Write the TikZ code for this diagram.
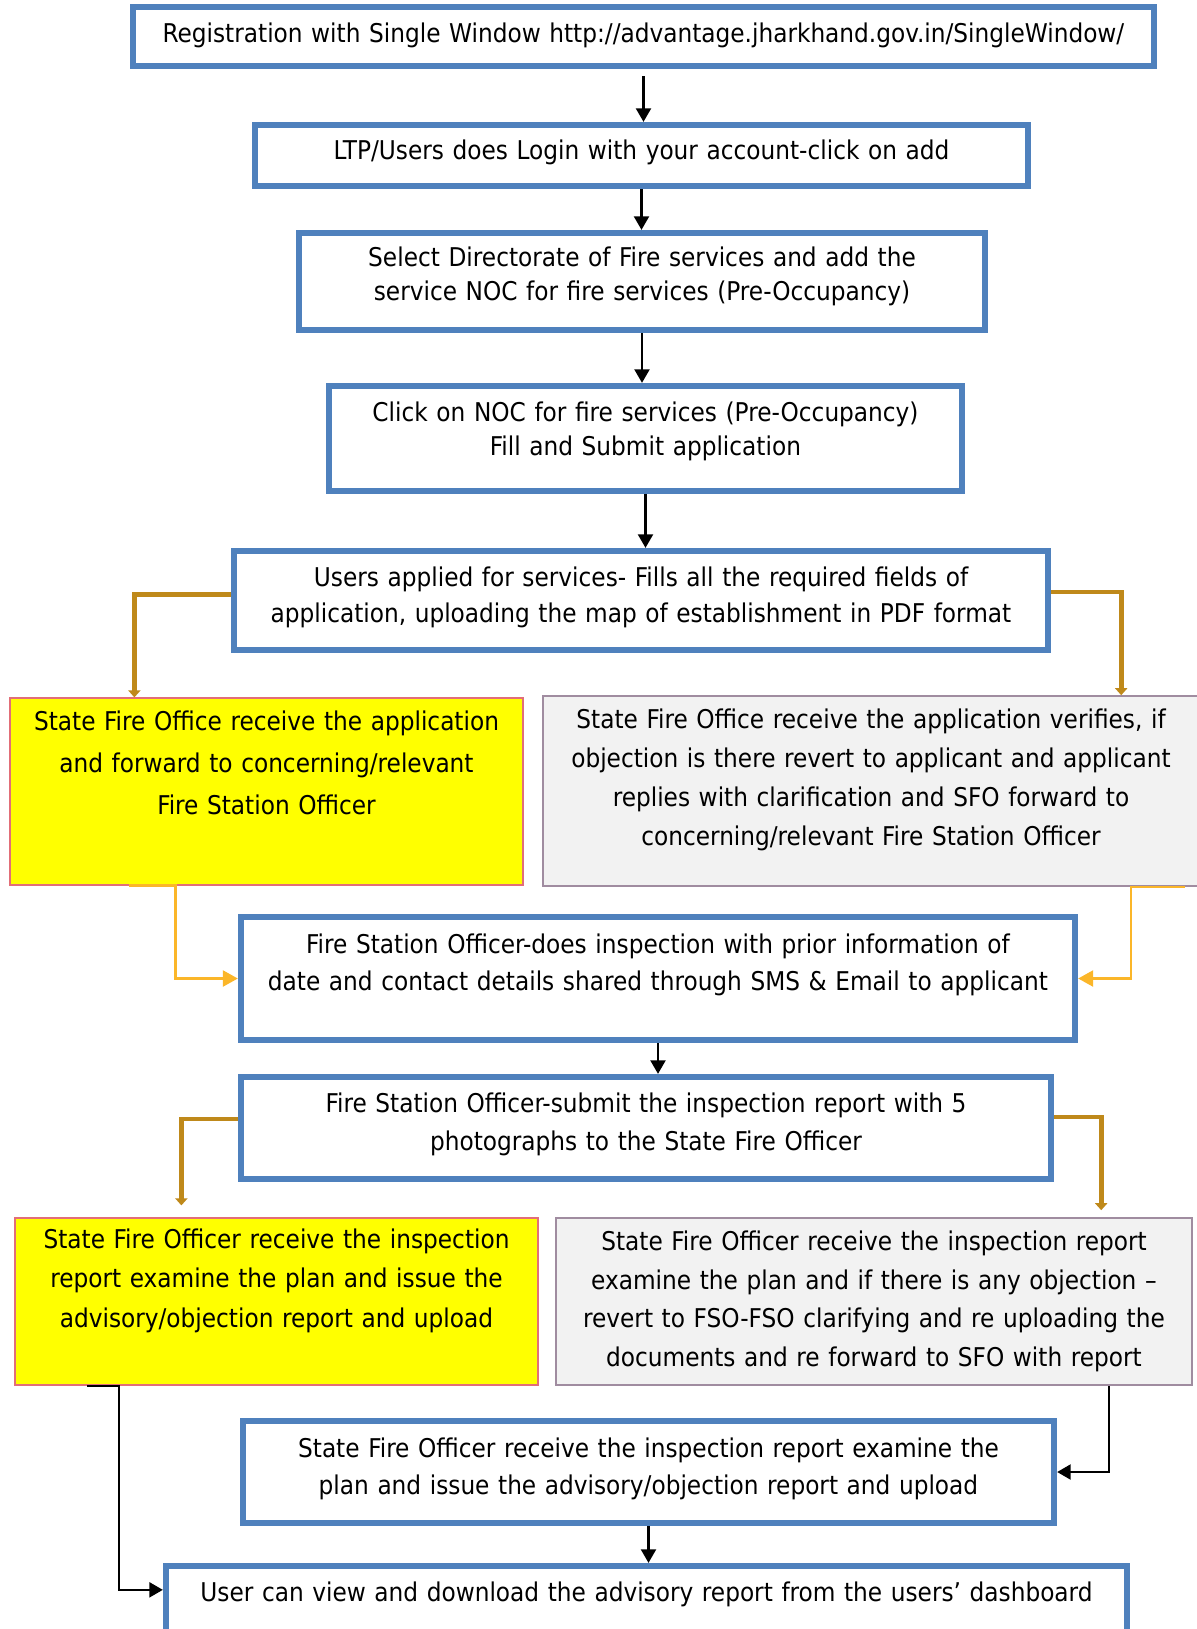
\documentclass[tikz,border=0pt]{standalone}
\usepackage{fontspec}
\IfFontExistsTF{DejaVu Sans Condensed}{\setmainfont{DejaVu Sans Condensed}}{\setmainfont{PT Sans}}
\usetikzlibrary{arrows.meta}

\definecolor{boxblue}{RGB}{79,129,189}
\definecolor{gold}{RGB}{191,137,26}
\definecolor{amber}{RGB}{251,182,41}
\definecolor{boxyellow}{RGB}{255,255,0}
\definecolor{grayfill}{RGB}{242,242,242}
\definecolor{pinkline}{RGB}{226,110,120}
\definecolor{mauveline}{RGB}{160,140,160}

\tikzset{
  lines/.style={font=\fontsize{14.7}{#1}\selectfont},
  bluebox/.style={draw=boxblue,line width=3.6pt,inner sep=0pt,align=center},
  yellowbox/.style={draw=pinkline,line width=0.7pt,fill=boxyellow,inner sep=0pt,align=center},
  greybox/.style={draw=mauveline,line width=0.9pt,fill=grayfill,inner sep=0pt,align=center},
  blackarrow/.style={line width=1.2pt,-{Triangle[length=0.27cm,width=0.3cm]}},
  goldarrow/.style={draw=gold,line width=2.6pt,-{Triangle[length=0.14cm,width=0.24cm]}},
  amberarrow/.style={draw=amber,line width=1.4pt,-{Triangle[length=0.3cm,width=0.32cm]}},
}

\begin{document}
\begin{tikzpicture}
\useasboundingbox (0,0) rectangle (23.94,-32.58);
% boxes, top to bottom
\node[bluebox,lines=19.5,text width=20.42cm,text height=0.70cm,text depth=0.48cm] (reg) at (12.87,-0.73)
  {Registration with Single Window http://advantage.jharkhand.gov.in/SingleWindow/};
\node[bluebox,lines=19.5,text width=15.46cm,text height=0.69cm,text depth=0.53cm] (login) at (12.83,-3.11)
  {LTP/Users does Login with your account-click on add};
\node[bluebox,lines=19.5,text width=13.72cm,text height=0.67cm,text depth=1.27cm] (select) at (12.84,-5.63)
  {Select Directorate of Fire services and add the\\service NOC for fire services (Pre-Occupancy)};
\node[bluebox,lines=19.5,text width=12.66cm,text height=0.71cm,text depth=1.39cm] (click) at (12.91,-8.77)
  {Click on NOC for fire services (Pre-Occupancy)\\Fill and Submit application};
\node[bluebox,lines=20.6,text width=16.28cm,text height=0.71cm,text depth=1.27cm] (apply) at (12.82,-12.01)
  {Users applied for services- Fills all the required fields of\\application, uploading the map of establishment in PDF format};
\node[yellowbox,lines=23.9,text width=10.26cm,text height=0.64cm,text depth=3.10cm] (sfo1) at (5.33,-15.83)
  {State Fire Office receive the application\\and forward to concerning/relevant\\Fire Station Officer};
\node[greybox,lines=22.2,text width=13.12cm,text height=0.64cm,text depth=3.16cm] (verify) at (17.42,-15.82)
  {State Fire Office receive the application verifies, if\\objection is there revert to applicant and applicant\\replies with clarification and SFO forward to\\concerning/relevant Fire Station Officer};
\node[bluebox,lines=21.2,text width=16.68cm,text height=0.73cm,text depth=1.73cm] (inspect) at (13.16,-19.57)
  {Fire Station Officer-does inspection with prior information of\\date and contact details shared through SMS \& Email to applicant};
\node[bluebox,lines=21.8,text width=16.20cm,text height=0.71cm,text depth=1.33cm] (report) at (12.92,-22.56)
  {Fire Station Officer-submit the inspection report with 5\\photographs to the State Fire Officer};
\node[yellowbox,lines=22.4,text width=10.46cm,text height=0.61cm,text depth=2.73cm] (advise) at (5.53,-26.03)
  {State Fire Officer receive the inspection\\report examine the plan and issue the\\advisory/objection report and upload};
\node[greybox,lines=22,text width=12.72cm,text height=0.65cm,text depth=2.69cm] (objection) at (17.48,-26.03)
  {State Fire Officer receive the inspection report\\examine the plan and if there is any objection –\\revert to FSO-FSO clarifying and re uploading the\\documents and re forward to SFO with report};
\node[bluebox,lines=21.2,text width=16.22cm,text height=0.73cm,text depth=1.31cm] (upload) at (12.97,-29.44)
  {State Fire Officer receive the inspection report examine the\\plan and issue the advisory/objection report and upload};
\node[bluebox,lines=19.5,text width=19.22cm,text height=0.70cm,text depth=1.58cm] (view) at (12.93,-32.46)
  {User can view and download the advisory report from the users’ dashboard};
% arrows
\draw[blackarrow] ([yshift=-0.14cm]reg.south) -- (reg.south |- login.north);
\draw[blackarrow] (login.south) -- (login.south |- select.north);
\draw[blackarrow] (select.south) -- (select.south |- click.north);
\draw[blackarrow] (click.south) -- (click.south |- apply.north);
\draw[goldarrow] ([yshift=0.12cm]apply.west) -| ([xshift=2.5cm]sfo1.north west);
\draw[goldarrow] ([yshift=0.17cm]apply.east) -| ([xshift=11.58cm]verify.north west);
\draw[amberarrow] ([xshift=2.4cm]sfo1.south west) -- ++(0.92,0) |- (inspect.west);
\draw[amberarrow] ([xshift=-0.3cm]verify.south east) -- ++(-1.08,0) |- (inspect.east);
\draw[blackarrow] (inspect.south) -- (inspect.south |- report.north);
\draw[goldarrow,shorten >=0.24cm] ([yshift=0.18cm]report.west) -| ([xshift=3.34cm]advise.north west);
\draw[goldarrow,shorten >=0.14cm] ([yshift=0.22cm]report.east) -| ([xshift=10.92cm]objection.north west);
\draw[blackarrow] ([xshift=1.46cm]advise.south west) -- ++(0.64,0) |- ([yshift=-0.54cm]view.north west);
\draw[blackarrow] ([xshift=11.08cm]objection.south west) |- (upload.east);
\draw[blackarrow] (upload.south) -- (upload.south |- view.north);
\end{tikzpicture}
\end{document}
